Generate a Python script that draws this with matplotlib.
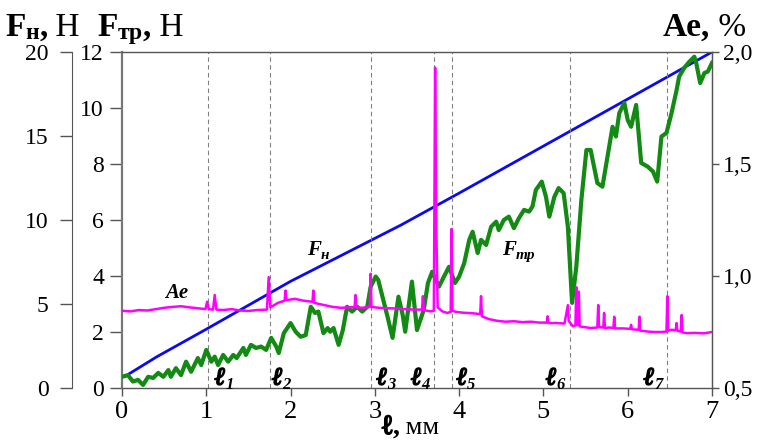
import matplotlib
matplotlib.use('Agg')
import matplotlib.pyplot as plt
import matplotlib.patheffects as pe
from matplotlib.ticker import FuncFormatter

plt.rcParams['font.family'] = ['Liberation Serif', 'DejaVu Sans']

# normal load F_n, N (straight ramp)
fn_x = [0.07, 0.41, 1.0, 2.0, 3.31, 4.0, 5.0, 6.0, 7.0]
fn_y = [0.80, 1.85, 3.50, 6.35, 9.70, 11.6, 14.4, 17.2, 20.0]

# friction force F_tr, N
ftr_x = [0.00, 0.07, 0.13, 0.19, 0.25, 0.31, 0.37, 0.43, 0.49, 0.55, 0.58, 0.64,
         0.70, 0.76, 0.82, 0.90, 0.94, 1.00, 1.06, 1.10, 1.14, 1.20, 1.26, 1.32,
         1.36, 1.44, 1.47, 1.53, 1.59, 1.65, 1.71, 1.77, 1.83, 1.86, 1.92, 2.00,
         2.06, 2.12, 2.18, 2.24, 2.29, 2.33, 2.39, 2.44, 2.47, 2.51, 2.57, 2.62,
         2.67, 2.73, 2.79, 2.85, 2.91, 2.95, 3.01, 3.04, 3.10, 3.15, 3.21, 3.28,
         3.33, 3.36, 3.44, 3.50, 3.58, 3.63, 3.68, 3.76, 3.82, 3.88, 3.95, 4.00,
         4.06, 4.12, 4.16, 4.22, 4.26, 4.32, 4.38, 4.44, 4.47, 4.53, 4.59, 4.65,
         4.71, 4.77, 4.83, 4.87, 4.91, 4.98, 5.03, 5.07, 5.13, 5.18, 5.24, 5.29,
         5.34, 5.39, 5.45, 5.51, 5.56, 5.64, 5.70, 5.76, 5.82, 5.86, 5.90, 5.96,
         6.00, 6.04, 6.10, 6.16, 6.24, 6.30, 6.35, 6.40, 6.46, 6.52, 6.58, 6.61,
         6.67, 6.73, 6.79, 6.81, 6.86, 6.91, 6.95, 7.00]
ftr_y = [0.40, 0.46, 0.23, 0.29, 0.11, 0.40, 0.36, 0.54, 0.40, 0.64, 0.40, 0.71,
         0.46, 0.94, 0.58, 1.07, 0.82, 1.36, 0.94, 1.12, 0.82, 1.18, 0.94, 1.18,
         1.07, 1.43, 1.18, 1.54, 1.43, 1.48, 1.36, 1.79, 1.48, 1.25, 1.96, 2.32,
         2.01, 1.83, 1.89, 2.90, 2.68, 2.73, 1.96, 2.14, 2.01, 2.14, 1.54, 2.07,
         2.90, 2.73, 2.90, 2.73, 2.90, 3.62, 3.98, 3.86, 3.14, 2.55, 1.79, 3.26,
         2.61, 2.01, 3.80, 2.07, 2.79, 3.75, 4.15, 3.62, 3.98, 4.33, 3.75, 3.98,
         4.46, 5.29, 5.58, 4.82, 5.29, 5.11, 5.76, 5.94, 5.64, 6.00, 6.12, 5.71,
         6.07, 6.36, 6.30, 6.48, 7.07, 7.37, 6.83, 6.12, 6.83, 7.14, 6.96, 5.76,
         3.04, 4.33, 6.71, 8.50, 8.50, 7.32, 7.19, 8.26, 9.33, 8.98, 9.82, 10.18,
         9.57, 9.33, 10.11, 8.04, 7.90, 7.73, 7.37, 8.98, 9.11, 9.82, 10.64, 11.12,
         11.43, 11.65, 11.83, 11.65, 10.89, 11.25, 11.30, 11.61]

# acoustic emission Ae, %
ae_x = [0.00, 0.10, 0.20, 0.30, 0.40, 0.50, 0.60, 0.70, 0.80, 0.90, 0.99, 1.01,
        1.03, 1.08, 1.10, 1.12, 1.20, 1.30, 1.40, 1.50, 1.60, 1.72, 1.74, 1.76,
        1.85, 1.93, 1.94, 1.95, 2.05, 2.15, 2.26, 2.27, 2.28, 2.40, 2.50, 2.60,
        2.70, 2.76, 2.77, 2.78, 2.85, 2.94, 2.95, 2.96, 3.05, 3.15, 3.25, 3.35,
        3.45, 3.56, 3.57, 3.58, 3.66, 3.70, 3.715, 3.73, 3.745, 3.80, 3.86, 3.90,
        3.91, 3.92, 3.96, 4.05, 4.15, 4.25, 4.26, 4.27, 4.35, 4.45, 4.55, 4.65,
        4.75, 4.85, 4.95, 5.04, 5.05, 5.06, 5.15, 5.25, 5.29, 5.30, 5.35, 5.38,
        5.39, 5.40, 5.42, 5.43, 5.48, 5.56, 5.64, 5.65, 5.66, 5.71, 5.72, 5.73,
        5.78, 5.83, 5.84, 5.85, 5.94, 6.03, 6.04, 6.05, 6.13, 6.14, 6.15, 6.24,
        6.32, 6.40, 6.46, 6.47, 6.48, 6.52, 6.57, 6.58, 6.59, 6.63, 6.64, 6.65,
        6.70, 6.80, 6.90, 7.00]
ae_y = [0.845, 0.842, 0.848, 0.846, 0.852, 0.858, 0.862, 0.865, 0.860, 0.856, 0.852, 0.885,
        0.852, 0.850, 0.915, 0.850, 0.848, 0.852, 0.846, 0.844, 0.848, 0.850, 0.995, 0.860,
        0.880, 0.890, 0.935, 0.892, 0.898, 0.890, 0.885, 0.935, 0.880, 0.870, 0.862, 0.858,
        0.860, 0.862, 0.915, 0.860, 0.858, 0.862, 1.010, 0.862, 0.858, 0.856, 0.855, 0.852,
        0.850, 0.850, 0.910, 0.848, 0.842, 0.845, 1.930, 1.200, 0.860, 0.842, 0.835, 0.840,
        1.210, 0.845, 0.840, 0.836, 0.834, 0.830, 0.910, 0.820, 0.808, 0.800, 0.796, 0.798,
        0.794, 0.796, 0.792, 0.792, 0.820, 0.790, 0.790, 0.788, 0.870, 0.800, 0.775, 0.780,
        0.950, 0.780, 0.930, 0.775, 0.772, 0.768, 0.770, 0.870, 0.772, 0.770, 0.835, 0.768,
        0.770, 0.768, 0.818, 0.766, 0.766, 0.764, 0.782, 0.762, 0.760, 0.818, 0.756, 0.752,
        0.750, 0.750, 0.752, 0.910, 0.755, 0.760, 0.758, 0.790, 0.755, 0.752, 0.826, 0.748,
        0.745, 0.746, 0.744, 0.750]

# sliding path marks l1..l7, mm
marks = [1.02, 1.75, 2.96, 3.70, 3.91, 5.32, 6.47]
mark_names = ['1', '2', '3', '4', '5', '6', '7']
mark_label_x = [1.10, 1.78, 3.02, 3.43, 3.97, 5.03, 6.19]

W, H = 759, 443
fig = plt.figure(figsize=(W / 100, H / 100), dpi=100)
ax = fig.add_axes([122 / W, 1 - 388 / H, 590 / W, 336 / H])
ax_fn = ax.twinx()
ax_ae = ax.twinx()

ax_fn.set_zorder(1)
ax.set_zorder(2)
ax_ae.set_zorder(3)
for a in (ax, ax_fn, ax_ae):
    a.patch.set_visible(False)

spine_col = '#555555'

# main axes: F_tr
ax.set_xlim(0, 7)
ax.set_ylim(0, 12)
ax.set_xticks(range(8))
ax.set_yticks(range(0, 13, 2))
ax.tick_params(axis='x', direction='out', length=6, width=1, labelsize=19, pad=3,
               color=spine_col)
ax.tick_params(axis='y', direction='out', length=9, width=1, labelsize=17, pad=4,
               color=spine_col)
for s in ax.spines.values():
    s.set_color(spine_col)
    s.set_linewidth(1.0)
ax.spines['left'].set_linewidth(1.6)
ax.spines['left'].set_color('#777777')

# outer left axis: F_n
ax_fn.set_ylim(0, 20)
ax_fn.set_yticks(range(0, 21, 5))
ax_fn.yaxis.set_ticks_position('left')
ax_fn.spines['left'].set_visible(True)
ax_fn.spines['left'].set_position(('axes', -50 / 590))
ax_fn.spines['left'].set_color(spine_col)
for side in ('right', 'top', 'bottom'):
    ax_fn.spines[side].set_visible(False)
ax_fn.tick_params(axis='y', direction='out', length=9, width=1, labelsize=17, pad=8,
                  color=spine_col)

# right axis: Ae
ax_ae.set_ylim(0.5, 2.0)
ax_ae.set_yticks([0.5, 1.0, 1.5, 2.0])
ax_ae.yaxis.set_major_formatter(FuncFormatter(lambda v, p: f'{v:.1f}'.replace('.', ',')))
for side in ('left', 'top', 'bottom'):
    ax_ae.spines[side].set_visible(False)
ax_ae.spines['right'].set_color(spine_col)
ax_ae.tick_params(axis='y', direction='out', length=5, width=1, labelsize=17, pad=3,
                  color=spine_col)

for m in marks:
    ax.axvline(m, color='#808080', lw=0.8, ls=(0, (4, 3)), zorder=1)

ax_fn.plot(fn_x, fn_y, color='#0a0af0', lw=2.0, solid_capstyle='round')
ax.plot(ftr_x, ftr_y, color='#138a13', lw=3.0, zorder=3)
ax_ae.plot(ae_x, ae_y, color='#ff00ff', lw=1.8)

# the serif l glyph is thin, so it gets an outline to look bold
HEAVY = [pe.withStroke(linewidth=1.1, foreground='black')]


def run_text(axes, x, y, coords, pieces):
    # draws text pieces one after another on a common baseline
    prev = None
    for piece in pieces:
        s, size, weight, style, dy = piece[:5]
        kw = dict(fontsize=size, fontweight=weight, fontstyle=style,
                  va='baseline', ha='left', annotation_clip=False)
        if len(piece) > 5:
            kw['path_effects'] = piece[5]
        if prev is None:
            prev = axes.annotate(s, xy=(x, y), xycoords=coords,
                                 xytext=(0, dy), textcoords='offset points', **kw)
        else:
            ycoords = coords[1] if isinstance(coords, tuple) else coords
            prev = axes.annotate(s, xy=(1, y), xycoords=(prev, ycoords),
                                 xytext=(0, dy), textcoords='offset points', **kw)
    return prev


# mark labels l1..l7
for lx, name in zip(mark_label_x, mark_names):
    run_text(ax, lx, 0.01, ('data', 'axes fraction'),
             [('ℓ', 18, 'bold', 'italic', 0, HEAVY), (name, 12, 'bold', 'italic', -3)])

# curve labels
run_text(ax, 0.51, 0.268, ('data', 'axes fraction'),
         [('Ae', 15, 'bold', 'italic', 0)])
run_text(ax, 2.19, 0.396, ('data', 'axes fraction'),
         [('F', 15, 'bold', 'italic', 0), ('н', 11, 'bold', 'italic', -3)])
run_text(ax, 4.51, 0.396, ('data', 'axes fraction'),
         [('F', 15, 'bold', 'italic', 0), ('тр', 11, 'bold', 'italic', -3)])

# axis titles
run_text(ax, 5, H - 36, 'figure pixels',
         [('F', 24, 'bold', 'normal', 0), ('н', 17, 'bold', 'normal', -2),
          (',', 24, 'bold', 'normal', 0), (' Н', 24, 'normal', 'normal', 0)])
run_text(ax, 97, H - 36, 'figure pixels',
         [('F', 24, 'bold', 'normal', 0), ('тр', 17, 'bold', 'normal', -2),
          (',', 24, 'bold', 'normal', 0), (' Н', 24, 'normal', 'normal', 0)])
run_text(ax, 663, H - 36, 'figure pixels',
         [('Ae,', 24, 'bold', 'normal', 0), (' %', 24, 'normal', 'normal', 0)])
run_text(ax, 382, H - 434, 'figure pixels',
         [('ℓ', 20, 'bold', 'normal', 0, HEAVY), (',', 20, 'bold', 'normal', 0),
          (' мм', 19, 'normal', 'normal', 0)])

fig.savefig('out.png', dpi=100, facecolor='white')
